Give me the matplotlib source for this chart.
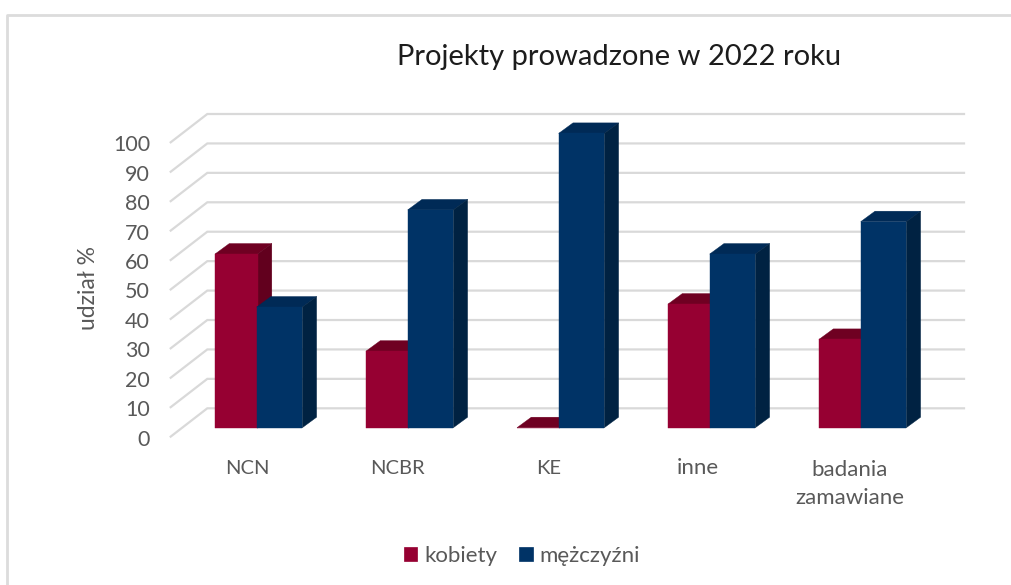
import numpy as np
import matplotlib
matplotlib.use("Agg")
import matplotlib.pyplot as plt
from matplotlib.lines import Line2D
from matplotlib.patches import Polygon

categories = ["NCN", "NCBR", "KE", "inne", "badania\nzamawiane"]
kobiety = [59, 26, 0, 42, 30]
mezczyzni = [41, 74, 100, 59, 70]
y_ticks = list(range(0, 110, 10))

RED = "#960032"
RED_TOP = "#6f0022"
RED_SIDE = "#62001e"
BLUE = "#003366"
BLUE_TOP = "#002a56"
BLUE_SIDE = "#002242"
GRAY = "#595959"
GRID = "#d9d9d9"

W, H = 1012, 585
X0, STEP = 258.65, 151.0   # px of first group, px per category
Y0, UNIT = 427.7, 2.943    # px of value 0, px per value unit

plt.rcParams["font.family"] = ["Lato", "DejaVu Sans"]

fig = plt.figure(figsize=(W / 100, H / 100), dpi=100, facecolor="white")
ax = fig.add_axes([0, 0, 1, 1])
ax.set_xlim(-X0 / STEP, (W - X0) / STEP)
ax.set_ylim((Y0 - H) / UNIT, Y0 / UNIT)
ax.axis("off")


def xd(px):
    return (px - X0) / STEP


def yd(px):
    return (Y0 - px) / UNIT


# outer chart frame
fig.add_artist(Line2D([7 / W, 7 / W, 1], [0, 1 - 14.5 / H, 1 - 14.5 / H], color="#dcdcdc", lw=2.0))

# gridlines of the back wall and the side wall
back = 19.4 / UNIT
front = -8.9 / UNIT
for v in y_ticks:
    ax.plot([xd(170.7), xd(207.3), xd(964)], [v + front, v + back, v + back],
            color=GRID, lw=1.6, zorder=1, solid_joinstyle="miter")
    ax.text(xd(150), v + front - 1, str(v), ha="right", va="center", fontsize=15.5, color=GRAY)

red_w = 42.5 / STEP
blue_w = 45.6 / STEP
red_off = (215 - X0) / STEP
blue_off = (256.7 - X0) / STEP
dx = 14.3 / STEP
dy = 10.5 / UNIT


def draw_bars(offset, bar_w, values, face, top, side, z):
    for i, v in enumerate(values):
        x = i + offset
        ax.bar(x, v, bar_w, align="edge", color=face, edgecolor=face, linewidth=0.3, zorder=z + 0.2)
        ax.add_patch(Polygon([(x, v), (x + dx, v + dy), (x + bar_w + dx, v + dy), (x + bar_w, v)],
                             closed=True, facecolor=top, edgecolor=top, linewidth=0.3, zorder=z + 0.1))
        ax.add_patch(Polygon([(x + bar_w, 0), (x + bar_w + dx, dy), (x + bar_w + dx, v + dy), (x + bar_w, v)],
                             closed=True, facecolor=side, edgecolor=side, linewidth=0.3, zorder=z + 0.1))


draw_bars(red_off, red_w, kobiety, RED, RED_TOP, RED_SIDE, 2)
draw_bars(blue_off, blue_w, mezczyzni, BLUE, BLUE_TOP, BLUE_SIDE, 3)

# category labels sit a little left of the group centre
label_px = [247, 397, 549, 698, 850]
label_base = [474, 474, 474, 474, 504]
label_size = [14.5, 14.5, 14.5, 16, 16]
for lab, px, base, size in zip(categories, label_px, label_base, label_size):
    ax.text(xd(px), yd(base), lab, ha="center", va="baseline", fontsize=size, color=GRAY, linespacing=1.5)

ax.text(xd(88.5), yd(288), "udział %", rotation=90, ha="center", va="center", fontsize=16.5, color=GRAY)
ax.text(xd(619), yd(57), "Projekty prowadzone w 2022 roku", ha="center", va="center", fontsize=21, color="#1c1c1c")

# legend
handles = [plt.Rectangle((0, 0), 1, 1, facecolor=RED, edgecolor=RED, lw=0.5),
           plt.Rectangle((0, 0), 1, 1, facecolor=BLUE, edgecolor=BLUE, lw=0.5)]
fig.legend(handles, ["kobiety", "mężczyźni"], loc="center", bbox_to_anchor=(522 / W, 1 - 556 / H), ncol=2,
           frameon=False, fontsize=16, labelcolor=GRAY, handlelength=0.62, handleheight=0.62,
           handletextpad=0.3, columnspacing=1.0)

fig.savefig("out.png", dpi=100, facecolor="white")
